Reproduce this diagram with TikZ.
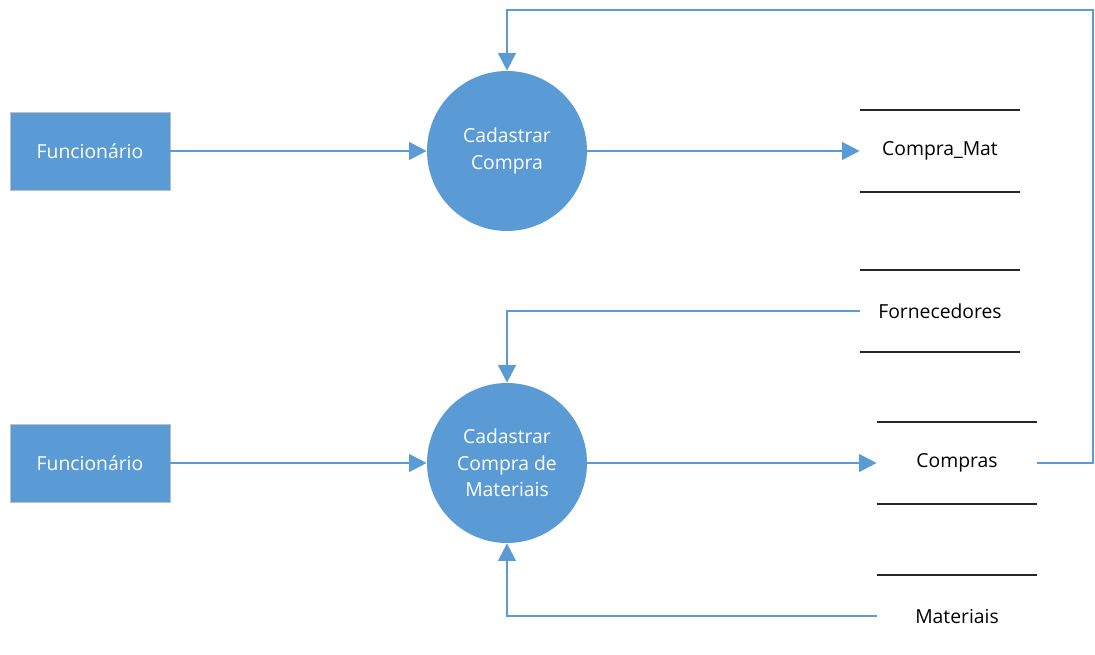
\documentclass[tikz,border=0pt]{standalone}
\usepackage{fontspec}
\setmainfont{Open Sans}
\usetikzlibrary{arrows.meta}
\definecolor{dfdblue}{HTML}{5B9BD5}

\begin{document}
\begin{tikzpicture}[x=0.02cm, y=-0.02cm, font=\fontsize{11}{15}\selectfont]
    \tikzset{entity/.style = {shape=rectangle, draw=gray!50, fill=dfdblue, text=white, minimum width=3.2cm, minimum height=1.56cm}}
    \tikzset{process/.style = {shape=circle, fill=dfdblue, text=white, minimum size=3.2cm, align=center, inner sep=0pt}}
    \tikzset{store/.style = {inner sep=0pt, minimum width=3.2cm, minimum height=1.62cm}}
    \tikzset{flow/.style = {draw=dfdblue, line width=1.3pt, -{Triangle[length=10pt, width=10pt]}}}
    \tikzset{storeline/.style = {draw=black!85, line width=1pt}}

    \useasboundingbox (0,0) rectangle (1095,655);

    % entities
    \node[entity] (f1) at (90,151) {Funcionário};
    \node[entity] (f2) at (90,463) {Funcionário};

    % processes
    \node[process] (p1) at (507,151) {Cadastrar\\Compra};
    \node[process] (p2) at (507,463) {Cadastrar\\Compra de\\Materiais};

    % data stores
    \node[store] (cm) at (940,151) {Compra\_Mat};
    \node[store] (fo) at (940,311) {Fornecedores};
    \node[store] (co) at (957,463) {Compras};
    \node[store] (ma) at (957,616) {Materiais};
    \draw[storeline] (cm.north west) -- (cm.north east);
    \draw[storeline] (cm.south west) -- (cm.south east);
    \draw[storeline] (fo.north west) -- (fo.north east);
    \draw[storeline] (fo.south west) -- (fo.south east);
    \draw[storeline] (co.north west) -- (co.north east);
    \draw[storeline] (co.south west) -- (co.south east);
    \draw[storeline] (ma.north west) -- (ma.north east);

    % flows
    \coordinate (tr) at (1093,10);
    \draw[flow] (f1) -- (p1);
    \draw[flow] (p1) -- (cm.west);
    \draw[flow] (f2) -- (p2);
    \draw[flow] (p2) -- (co.west);
    \draw[flow] (fo.west) -| (p2.north);
    \draw[flow] (ma.west) -| (p2.south);
    \draw[flow] (co.east) -| (tr) -| (p1.north);
\end{tikzpicture}
\end{document}
